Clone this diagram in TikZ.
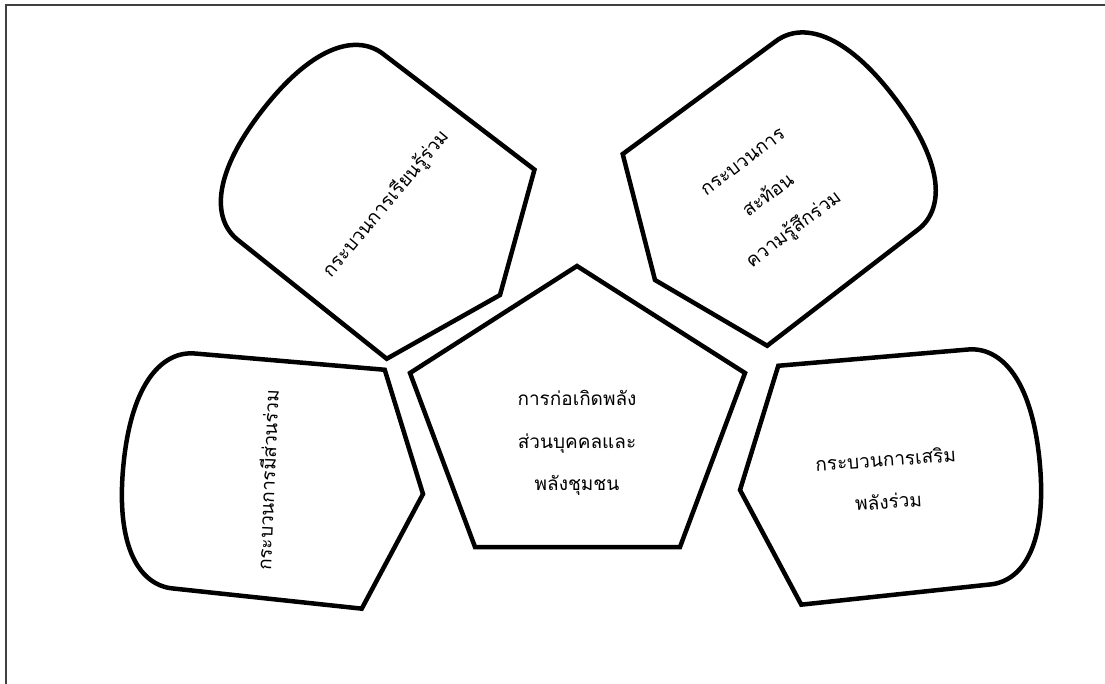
\documentclass[tikz,border=0pt]{standalone}
\usepackage{fontspec}
\newfontfamily\thaifont[Script=Thai]{Loma}
\usepackage{tikz}
\usetikzlibrary{positioning}
\tikzset{%
	petal line/.style  = {draw, line width=3.2pt, line join=miter},
	thaitext/.style    = {font=\thaifont\fontsize{13.5}{30}\selectfont, align=center}, % Thai labels
	border line/.style = {draw=black!75, line width=0.9pt},
	petal/.pic = {
		\draw[petal line] (0,0) -- (50,120) -- (240,118)
			.. controls (272,118) and (301,85) .. (301,0)
			.. controls (301,-85) and (272,-118) .. (240,-118)
			-- (50,-120) -- cycle;
	},
}
\begin{document}
\begin{tikzpicture}[x=0.025cm,y=-0.025cm]
	\useasboundingbox (0,0) rectangle (1105,684);
	\draw[border line] (6,684) -- (6,5) -- (1105,5);

	% four petals round the centre
	\pic[rotate=5.5]   at (740,490) {petal};
	\pic[rotate=37]    at (655,280) {petal};
	\pic[rotate=142]   at (500,295) {petal};
	\pic[rotate=174.5] at (423,494) {petal};

	% centre pentagon
	\draw[petal line] (577,266) -- (745,373) -- (680,547) -- (475,547) -- (410,373) -- cycle;

	\node[thaitext] (core) at (577,443) {การก่อเกิดพลัง\\ส่วนบุคคลและ\\พลังชุมชน};
	\node[thaitext,rotate=4] (empower) at (887,480) {กระบวนการเสริม\\พลังร่วม};
	\node[thaitext,rotate=37] (reflect) at (770,198) {กระบวนการ\\สะท้อน\\ความรู้สึกร่วม};
	\node[thaitext,rotate=50] (learn) at (386,204) {กระบวนการเรียนรู้ร่วม};
	\node[thaitext,rotate=87.5] (join) at (267,480) {กระบวนการมีส่วนร่วม};
\end{tikzpicture}
\end{document}
